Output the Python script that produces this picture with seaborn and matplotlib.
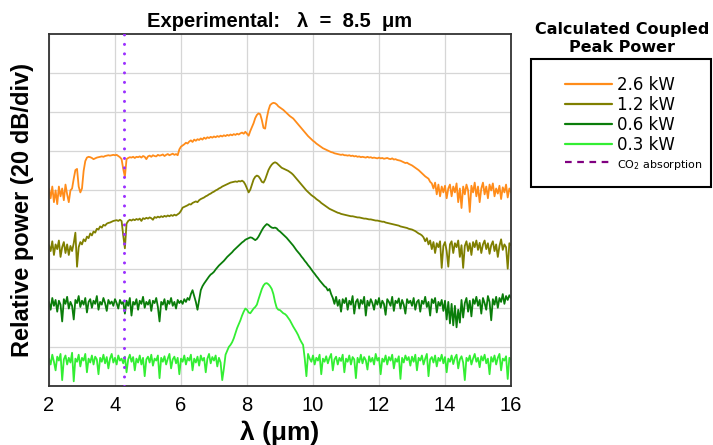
import numpy as np
import pandas as pd
import matplotlib
matplotlib.use("Agg")
import matplotlib.pyplot as plt
import seaborn as sns
from matplotlib.lines import Line2D
from matplotlib.patches import Rectangle

# relative power in divisions (20 dB/div), sampled every 0.05 um from 2 to 16 um
power_labels = ["2.6 kW", "1.2 kW", "0.6 kW", "0.3 kW"]
line_colors = ["#ff8c1a", "#7f7f00", "#0a7d0a", "#33ee33"]
co2_wavelength = 4.27

trace_2p6 = [
    5.05, 4.80, 5.10, 4.70, 5.00, 4.65, 5.10, 4.85, 5.05, 4.75, 5.15, 4.90, 4.70, 5.00, 5.05, 5.30, 5.52, 5.55, 5.10, 4.95,
    5.05, 5.50, 5.75, 5.84, 5.86, 5.85, 5.83, 5.80, 5.82, 5.84, 5.85, 5.86, 5.87, 5.86, 5.88, 5.89, 5.90, 5.89, 5.90, 5.91,
    5.90, 5.91, 5.88, 5.85, 5.80, 5.55, 5.35, 5.80, 5.83, 5.85, 5.84, 5.86, 5.83, 5.86, 5.85, 5.87, 5.84, 5.88, 5.86, 5.80,
    5.87, 5.89, 5.86, 5.90, 5.88, 5.87, 5.91, 5.89, 5.90, 5.92, 5.88, 5.91, 5.93, 5.90, 5.92, 5.94, 5.91, 5.93, 5.90, 6.05,
    6.12, 6.15, 6.18, 6.22, 6.20, 6.25, 6.28, 6.24, 6.30, 6.27, 6.31, 6.29, 6.33, 6.30, 6.35, 6.32, 6.36, 6.34, 6.37, 6.35,
    6.38, 6.36, 6.39, 6.37, 6.40, 6.38, 6.41, 6.39, 6.42, 6.40, 6.43, 6.41, 6.44, 6.42, 6.45, 6.43, 6.46, 6.48, 6.45, 6.50,
    6.45, 6.40, 6.52, 6.62, 6.72, 6.85, 6.93, 6.97, 6.95, 6.80, 6.60, 6.58, 6.85, 7.05, 7.18, 7.22, 7.24, 7.23, 7.20, 7.15,
    7.12, 7.09, 7.06, 7.02, 6.98, 6.94, 6.90, 6.87, 6.84, 6.79, 6.74, 6.69, 6.64, 6.59, 6.54, 6.49, 6.44, 6.39, 6.35, 6.31,
    6.27, 6.24, 6.20, 6.17, 6.14, 6.11, 6.08, 6.06, 6.04, 6.02, 6.00, 5.98, 5.97, 5.95, 5.94, 5.93, 5.92, 5.91, 5.92, 5.90,
    5.90, 5.89, 5.90, 5.88, 5.89, 5.87, 5.88, 5.86, 5.87, 5.85, 5.86, 5.85, 5.84, 5.86, 5.84, 5.85, 5.83, 5.84, 5.83, 5.82,
    5.84, 5.82, 5.83, 5.81, 5.82, 5.83, 5.81, 5.80, 5.82, 5.79, 5.80, 5.78, 5.77, 5.76, 5.74, 5.72, 5.70, 5.71, 5.68, 5.66,
    5.64, 5.61, 5.58, 5.55, 5.52, 5.48, 5.44, 5.40, 5.36, 5.33, 5.30, 5.22, 5.18, 5.05, 5.20, 4.90, 5.15, 4.85, 5.10, 4.95,
    5.12, 4.80, 5.05, 5.15, 4.85, 5.10, 4.95, 5.18, 4.70, 5.05, 4.55, 5.10, 4.90, 5.15, 5.00, 4.45, 5.12, 4.95, 5.20, 4.85,
    5.10, 4.70, 5.05, 5.20, 4.90, 5.10, 4.80, 5.15, 5.00, 5.18, 4.85, 5.05, 4.92, 5.12, 4.78, 5.08, 4.95, 5.15, 4.82, 5.05,
    4.95,
]

trace_1p2 = [
    3.60, 3.45, 3.70, 3.35, 3.62, 3.50, 3.72, 3.30, 3.55, 3.68, 3.40, 3.62, 3.35, 3.58, 3.45, 3.65, 3.92, 3.05, 3.55, 3.68,
    3.62, 3.75, 3.70, 3.82, 3.78, 3.90, 3.85, 3.95, 3.92, 4.02, 4.00, 4.08, 4.05, 4.12, 4.10, 4.15, 4.17, 4.18, 4.20, 4.22,
    4.23, 4.24, 4.22, 4.25, 4.22, 3.85, 3.52, 4.15, 4.22, 4.25, 4.23, 4.26, 4.24, 4.27, 4.25, 4.28, 4.22, 4.29, 4.27, 4.30,
    4.28, 4.31, 4.29, 4.25, 4.32, 4.30, 4.33, 4.31, 4.34, 4.32, 4.35, 4.33, 4.36, 4.34, 4.37, 4.35, 4.38, 4.36, 4.39, 4.42,
    4.48, 4.56, 4.58, 4.60, 4.62, 4.65, 4.64, 4.68, 4.70, 4.72, 4.70, 4.75, 4.78, 4.80, 4.82, 4.85, 4.87, 4.90, 4.92, 4.95,
    4.97, 5.00, 5.02, 5.05, 5.07, 5.10, 5.12, 5.14, 5.16, 5.18, 5.20, 5.21, 5.22, 5.23, 5.22, 5.24, 5.23, 5.25, 5.22, 5.15,
    5.05, 4.95, 5.02, 5.15, 5.28, 5.35, 5.38, 5.36, 5.30, 5.22, 5.20, 5.28, 5.40, 5.52, 5.60, 5.66, 5.70, 5.72, 5.70, 5.66,
    5.62, 5.58, 5.56, 5.54, 5.52, 5.50, 5.47, 5.44, 5.40, 5.35, 5.30, 5.25, 5.20, 5.15, 5.10, 5.05, 5.00, 4.96, 4.92, 4.88,
    4.85, 4.82, 4.78, 4.75, 4.72, 4.68, 4.65, 4.62, 4.59, 4.56, 4.53, 4.51, 4.49, 4.47, 4.45, 4.43, 4.42, 4.40, 4.39, 4.38,
    4.37, 4.36, 4.35, 4.34, 4.34, 4.33, 4.32, 4.31, 4.31, 4.30, 4.29, 4.28, 4.28, 4.27, 4.26, 4.26, 4.25, 4.24, 4.23, 4.23,
    4.22, 4.21, 4.20, 4.20, 4.18, 4.17, 4.16, 4.15, 4.14, 4.13, 4.12, 4.11, 4.10, 4.08, 4.07, 4.06, 4.05, 4.04, 4.02, 4.01,
    4.00, 3.98, 3.96, 3.93, 3.90, 3.88, 3.85, 3.80, 3.70, 3.78, 3.62, 3.72, 3.50, 3.68, 3.40, 3.65, 3.55, 3.70, 3.02, 3.58,
    3.68, 3.45, 3.05, 3.62, 3.70, 3.40, 3.65, 3.55, 3.72, 3.30, 3.60, 3.02, 3.58, 3.70, 3.45, 3.65, 3.35, 3.68, 3.55, 3.72,
    3.48, 3.66, 3.40, 3.62, 3.72, 3.50, 3.65, 3.38, 3.60, 3.70, 3.45, 3.62, 3.30, 3.58, 3.75, 3.48, 3.62, 3.55, 3.00, 3.65,
    3.60,
]

trace_0p6 = [
    2.15, 1.95, 2.25, 2.05, 2.20, 1.90, 2.18, 2.08, 1.65, 2.22, 2.10, 2.28, 1.98, 2.15, 2.05, 1.70, 2.20, 2.12, 2.30, 2.02,
    2.18, 2.08, 2.25, 1.88, 2.15, 2.22, 2.00, 2.18, 2.10, 2.30, 1.95, 2.15, 2.08, 2.25, 2.12, 1.92, 2.20, 2.10, 2.16, 2.05,
    2.22, 2.12, 1.98, 2.20, 2.10, 2.15, 1.85, 2.18, 2.05, 2.25, 1.80, 2.15, 2.08, 2.22, 1.95, 2.18, 2.10, 2.28, 2.00, 2.15,
    2.08, 2.20, 1.92, 2.18, 2.12, 2.25, 2.02, 1.65, 2.15, 2.08, 2.22, 1.95, 2.18, 2.10, 2.25, 2.05, 2.15, 1.98, 2.20, 2.12,
    2.18, 2.10, 2.22, 2.15, 2.25, 2.20, 2.35, 2.45, 2.30, 2.15, 1.95, 2.20, 2.45, 2.55, 2.62, 2.68, 2.74, 2.80, 2.85, 2.88,
    2.92, 2.98, 3.03, 3.08, 3.12, 3.16, 3.20, 3.25, 3.30, 3.34, 3.38, 3.42, 3.47, 3.51, 3.55, 3.59, 3.63, 3.67, 3.70, 3.74,
    3.76, 3.78, 3.80, 3.79, 3.76, 3.73, 3.76, 3.82, 3.90, 3.98, 4.05, 4.10, 4.14, 4.12, 4.08, 4.05, 4.04, 4.05, 4.03, 3.98,
    3.95, 3.91, 3.87, 3.83, 3.79, 3.74, 3.69, 3.64, 3.59, 3.53, 3.47, 3.42, 3.37, 3.31, 3.26, 3.20, 3.15, 3.09, 3.04, 2.98,
    2.92, 2.87, 2.81, 2.76, 2.70, 2.65, 2.60, 2.55, 2.52, 2.44, 2.48, 2.35, 2.25, 2.10, 2.28, 2.05, 2.20, 1.90, 2.22, 2.12,
    2.25, 1.95, 2.18, 2.08, 2.30, 1.85, 2.15, 2.22, 1.98, 2.20, 2.10, 2.28, 1.80, 2.18, 2.05, 2.22, 2.12, 1.95, 2.20, 2.08,
    2.25, 2.00, 2.18, 2.10, 1.82, 2.22, 2.15, 2.05, 2.28, 1.92, 2.18, 2.12, 2.24, 1.98, 2.20, 2.08, 1.85, 2.22, 2.12, 2.18,
    2.05, 2.25, 1.95, 2.15, 2.20, 1.90, 2.18, 2.10, 2.28, 2.02, 2.15, 1.80, 2.22, 2.12, 2.25, 1.88, 2.15, 2.05, 2.20, 1.92,
    2.18, 1.70, 2.15, 1.60, 2.10, 1.55, 2.05, 1.50, 1.95, 1.62, 2.20, 1.75, 2.12, 2.25, 1.90, 2.18, 1.78, 2.22, 2.10, 2.28,
    2.05, 2.20, 1.85, 2.25, 2.12, 1.95, 2.30, 2.15, 1.68, 2.22, 2.08, 2.28, 2.00, 2.25, 2.15, 2.35, 2.10, 2.30, 2.20, 2.32,
    2.25,
]

trace_0p3 = [
    0.70, 0.55, 0.80, 0.62, 0.40, 0.75, 0.65, 0.82, 0.15, 0.68, 0.78, 0.55, 0.72, 0.60, 0.85, 0.12, 0.70, 0.62, 0.80, 0.50,
    0.72, 0.65, 0.82, 0.35, 0.70, 0.60, 0.78, 0.55, 0.75, 0.68, 0.30, 0.72, 0.62, 0.80, 0.58, 0.74, 0.45, 0.70, 0.82, 0.60,
    0.72, 0.55, 0.78, 0.65, 0.70, 0.58, 0.75, 0.35, 0.68, 0.80, 0.62, 0.74, 0.40, 0.70, 0.60, 0.78, 0.55, 0.72, 0.25, 0.68,
    0.75, 0.60, 0.80, 0.52, 0.70, 0.65, 0.78, 0.20, 0.72, 0.62, 0.76, 0.55, 0.70, 0.82, 0.45, 0.68, 0.75, 0.58, 0.72, 0.30,
    0.70, 0.62, 0.78, 0.55, 0.72, 0.65, 0.80, 0.40, 0.70, 0.60, 0.75, 0.52, 0.78, 0.65, 0.72, 0.35, 0.70, 0.82, 0.58, 0.74,
    0.65, 0.78, 0.50, 0.72, 0.60, 0.15, 0.45, 0.80, 0.90, 1.00, 1.05, 1.12, 1.22, 1.35, 1.48, 1.58, 1.68, 1.80, 1.90, 1.98,
    1.95, 1.88, 1.86, 1.92, 1.98, 2.02, 2.08, 2.22, 2.35, 2.48, 2.57, 2.62, 2.63, 2.60, 2.55, 2.48, 2.35, 2.15, 2.00, 1.95,
    1.94, 1.90, 1.86, 1.84, 1.80, 1.74, 1.68, 1.60, 1.52, 1.45, 1.38, 1.30, 1.20, 1.12, 1.05, 0.70, 0.25, 0.82, 0.70, 0.62,
    0.78, 0.55, 0.72, 0.65, 0.80, 0.30, 0.70, 0.62, 0.76, 0.58, 0.72, 0.82, 0.40, 0.68, 0.75, 0.55, 0.72, 0.64, 0.80, 0.35,
    0.70, 0.62, 0.78, 0.55, 0.74, 0.68, 0.20, 0.72, 0.60, 0.80, 0.58, 0.74, 0.66, 0.42, 0.76, 0.62, 0.72, 0.55, 0.82, 0.65,
    0.72, 0.30, 0.70, 0.62, 0.78, 0.55, 0.74, 0.65, 0.80, 0.45, 0.70, 0.62, 0.76, 0.18, 0.72, 0.60, 0.78, 0.66, 0.74, 0.52,
    0.75, 0.62, 0.80, 0.40, 0.72, 0.65, 0.78, 0.55, 0.70, 0.82, 0.25, 0.68, 0.74, 0.60, 0.78, 0.50, 0.72, 0.64, 0.80, 0.58,
    0.74, 0.35, 0.70, 0.62, 0.78, 0.56, 0.72, 0.80, 0.45, 0.68, 0.76, 0.60, 0.15, 0.72, 0.64, 0.78, 0.55, 0.70, 0.82, 0.62,
    0.72, 0.48, 0.76, 0.65, 0.80, 0.58, 0.70, 0.30, 0.74, 0.62, 0.78, 0.55, 0.72, 0.82, 0.40, 0.70, 0.65, 0.76, 0.18, 0.72,
    0.68,
]

traces = [trace_2p6, trace_1p2, trace_0p6, trace_0p3]

frames = []
for label, trace in zip(power_labels, traces):
    wl = np.linspace(2, 16, len(trace))
    frames.append(pd.DataFrame({"wavelength": wl, "power": trace, "label": label}))
df = pd.concat(frames, ignore_index=True)

sns.set_theme(style="white")
plt.rcParams["font.family"] = ["Liberation Sans", "DejaVu Sans"]
plt.rcParams["text.color"] = "black"
plt.rcParams["axes.labelcolor"] = "black"
plt.rcParams["xtick.color"] = "black"

fig = plt.figure(figsize=(7.13, 4.45), dpi=100)
ax = fig.add_axes([0.0687, 0.1326, 0.648, 0.791])

sns.lineplot(data=df, x="wavelength", y="power", hue="label", hue_order=power_labels,
             palette=dict(zip(power_labels, line_colors)), estimator=None, sort=False,
             linewidth=1.3, legend=False, ax=ax)

ax.axvline(co2_wavelength, color="#9b30ff", lw=2.2, linestyle=(0, (0.01, 3.1)),
           dash_capstyle="round", zorder=3)

ax.set_xlim(2, 16)
ax.set_ylim(0, 9)
ax.set_xticks(np.arange(2, 17, 2))
ax.set_xticks(np.arange(3, 16, 2), minor=True)
ax.set_yticks(np.arange(1, 9))
ax.set_yticklabels([])
ax.tick_params(axis="x", which="both", direction="in", length=4, width=1, color="#333333",
               labelsize=14.5, pad=7)
ax.tick_params(axis="y", length=0)
ax.grid(True, which="major", color="#d6d6d6", lw=0.9)
for sp in ax.spines.values():
    sp.set_color("#333333")
    sp.set_linewidth(1.3)

ax.set_title("Experimental:   λ  =  8.5  μm", fontsize=14.5, fontweight="bold", pad=5)
ax.set_xlabel("λ (μm)", fontsize=19, fontweight="bold", labelpad=4)
ax.set_ylabel("Relative power (20 dB/div)", fontsize=17, fontweight="bold", labelpad=7)

# legend: title above a separate box
fig.text(0.8724, 0.9135, "Calculated Coupled\nPeak Power", ha="center", va="center",
         fontsize=11.5, fontweight="bold", family="DejaVu Sans", linespacing=1.2)
fig.add_artist(Rectangle((0.745, 0.5798), 0.2525, 0.2876, transform=fig.transFigure,
                         fill=False, edgecolor="black", lw=1.5))

handles = [Line2D([], [], color=c, lw=1.6) for c in line_colors]
handles.append(Line2D([], [], color="#800080", lw=1.6, linestyle=(0, (3, 2.5))))
labels = power_labels + ["CO$_2$ absorption"]
leg = fig.legend(handles, labels, loc="upper left", bbox_to_anchor=(0.7924, 0.8290),
                 bbox_transform=fig.transFigure, frameon=False, borderpad=0, borderaxespad=0,
                 handlelength=2.8, handletextpad=0.35, labelspacing=0.12,
                 prop={"family": "DejaVu Sans", "size": 12})
for t in leg.get_texts():
    t.set_color("black")
leg.get_texts()[-1].set_fontsize(8)

fig.savefig("out.png", dpi=100)
